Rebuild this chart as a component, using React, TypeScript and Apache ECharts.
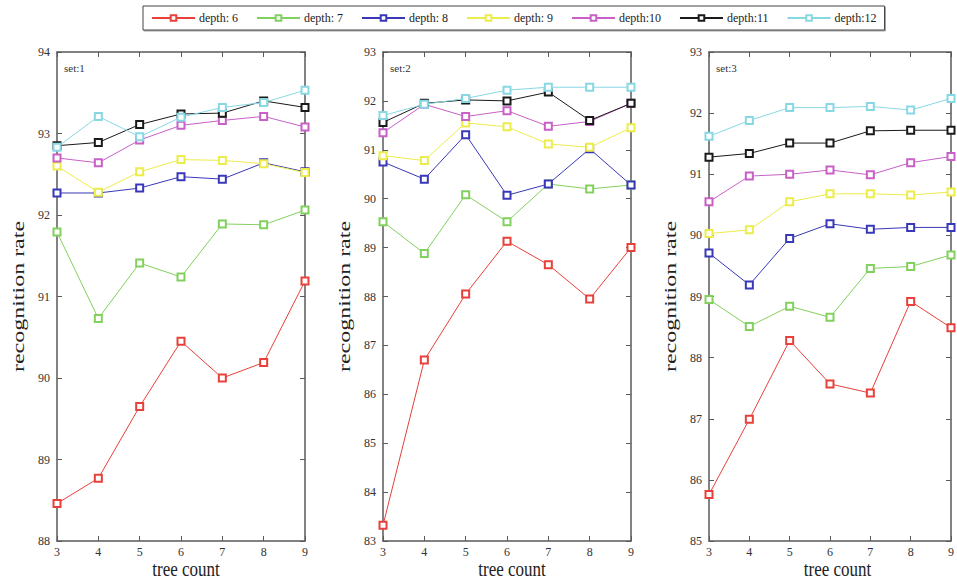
import React, { useEffect, useRef } from 'react';
import * as echarts from 'echarts';

const treeCounts = [3, 4, 5, 6, 7, 8, 9];
const depthNames = ['depth: 6', 'depth: 7', 'depth: 8', 'depth: 9', 'depth:10', 'depth:11', 'depth:12'];
const depthColors = ['#e8403a', '#82d05e', '#3838b8', '#ecec4a', '#c860c8', '#1a1a1a', '#88d8e4'];
const setLabels = ['set:1', 'set:2', 'set:3'];
const xAxisTitle = 'tree count';
const yAxisTitle = 'recognition rate';

const set1 = [
  [88.46, 88.77, 89.65, 90.45, 90.0, 90.19, 91.19],
  [91.79, 90.73, 91.41, 91.24, 91.89, 91.88, 92.06],
  [92.27, 92.27, 92.33, 92.47, 92.44, 92.64, 92.53],
  [92.6, 92.28, 92.53, 92.68, 92.67, 92.63, 92.52],
  [92.7, 92.64, 92.92, 93.1, 93.16, 93.21, 93.08],
  [92.85, 92.89, 93.11, 93.24, 93.25, 93.4, 93.32],
  [92.83, 93.21, 92.96, 93.2, 93.32, 93.38, 93.53],
];
const set2 = [
  [83.32, 86.7, 88.05, 89.13, 88.65, 87.95, 89.0],
  [89.53, 88.88, 90.08, 89.53, 90.3, 90.2, 90.28],
  [90.75, 90.4, 91.31, 90.07, 90.3, 91.02, 90.28],
  [90.88, 90.78, 91.55, 91.47, 91.12, 91.05, 91.45],
  [91.35, 91.93, 91.68, 91.8, 91.48, 91.58, 91.95],
  [91.56, 91.95, 92.02, 92.0, 92.18, 91.6, 91.95],
  [91.7, 91.93, 92.05, 92.22, 92.28, 92.28, 92.28],
];
const set3 = [
  [85.76, 86.99, 88.28, 87.57, 87.42, 88.92, 88.49],
  [88.95, 88.51, 88.84, 88.66, 89.46, 89.49, 89.68],
  [89.71, 89.19, 89.95, 90.19, 90.1, 90.13, 90.13],
  [90.03, 90.09, 90.55, 90.68, 90.68, 90.66, 90.71],
  [90.55, 90.97, 91.0, 91.07, 90.99, 91.19, 91.29],
  [91.28, 91.34, 91.51, 91.51, 91.71, 91.72, 91.72],
  [91.62, 91.88, 92.09, 92.09, 92.11, 92.05, 92.24],
];
const yRanges = [
  [88, 94],
  [83, 93],
  [85, 93],
];
const sets = [set1, set2, set3];

const FONT = 'Liberation Serif';
const AXIS_COLOR = '#5a5a5a';

export default function App() {
  const ref = useRef<HTMLDivElement>(null);
  useEffect(() => {
    const chart = echarts.init(ref.current!, null, { renderer: 'svg' });
    const grids = [
      { left: 57, top: 52, width: 248, height: 489 },
      { left: 383, top: 52, width: 248, height: 489 },
      { left: 709, top: 52, width: 247, height: 489 },
    ];
    const axisLine = { show: true, lineStyle: { color: AXIS_COLOR, width: 1.5 } };
    const axisTick = { show: true, inside: true, length: 5, lineStyle: { color: AXIS_COLOR, width: 1 } };
    const xAxis: any[] = [];
    const yAxis: any[] = [];
    const series: any[] = [];
    const graphic: any[] = [];
    grids.forEach((g, i) => {
      xAxis.push({
        type: 'value', gridIndex: i, min: 3, max: 9, interval: 1, position: 'bottom',
        axisLine, axisTick, splitLine: { show: false },
        axisLabel: { fontFamily: FONT, fontSize: 12, color: '#333', margin: 5 },
      });
      xAxis.push({
        type: 'value', gridIndex: i, min: 3, max: 9, interval: 1, position: 'top',
        axisLine, axisTick, splitLine: { show: false }, axisLabel: { show: false },
      });
      yAxis.push({
        type: 'value', gridIndex: i, min: yRanges[i][0], max: yRanges[i][1], interval: 1, position: 'left',
        axisLine, axisTick, splitLine: { show: false },
        axisLabel: { fontFamily: FONT, fontSize: 12, color: '#333', margin: 7 },
      });
      yAxis.push({
        type: 'value', gridIndex: i, min: yRanges[i][0], max: yRanges[i][1], interval: 1, position: 'right',
        axisLine, axisTick, splitLine: { show: false }, axisLabel: { show: false },
      });
      sets[i].forEach((vals, d) => {
        series.push({
          type: 'line', name: depthNames[d], xAxisIndex: 2 * i, yAxisIndex: 2 * i,
          data: treeCounts.map((t, k) => [t, vals[k]]),
          symbol: 'emptyRect', symbolSize: 7,
          lineStyle: { color: depthColors[d], width: 1 },
          itemStyle: { color: depthColors[d], borderColor: depthColors[d], borderWidth: 1 },
          z: 2 + d,
        });
      });
      graphic.push({
        type: 'text', left: g.left + 7, top: g.top + 10,
        style: { text: setLabels[i], fontFamily: FONT, fontSize: 11, fill: '#333' },
      });
      graphic.push({
        type: 'text', x: g.left + g.width / 2 + 5, y: 569, scaleX: 0.85, scaleY: 1,
        style: { text: xAxisTitle, fontFamily: FONT, fontSize: 20, fill: '#222', align: 'center', verticalAlign: 'middle' },
      });
      graphic.push({
        type: 'text', x: g.left - 39, y: g.top + g.height / 2, rotation: Math.PI / 2, scaleX: 1, scaleY: 0.7,
        style: { text: yAxisTitle, fontFamily: FONT, fontSize: 24, fill: '#222', align: 'center', verticalAlign: 'middle' },
      });
    });
    chart.setOption({
      animation: false,
      backgroundColor: '#fff',
      textStyle: { fontFamily: FONT },
      grid: grids,
      xAxis,
      yAxis,
      series,
      legend: {
        left: 143, top: 6, itemWidth: 43, itemHeight: 7, itemGap: 18,
        padding: [6, 8],
        borderColor: '#444', borderWidth: 1,
        shadowColor: 'rgba(0,0,0,0.35)', shadowOffsetX: 1, shadowOffsetY: 1, shadowBlur: 1,
        backgroundColor: '#fff',
        textStyle: { fontFamily: FONT, fontSize: 12, color: '#222', padding: [0, 0, 0, -1] },
        data: depthNames,
      },
      graphic,
    });
    return () => chart.dispose();
  }, []);
  return <div ref={ref} style={{ position: 'absolute', left: 0, top: 0, width: 957, height: 581 }} />;
}
